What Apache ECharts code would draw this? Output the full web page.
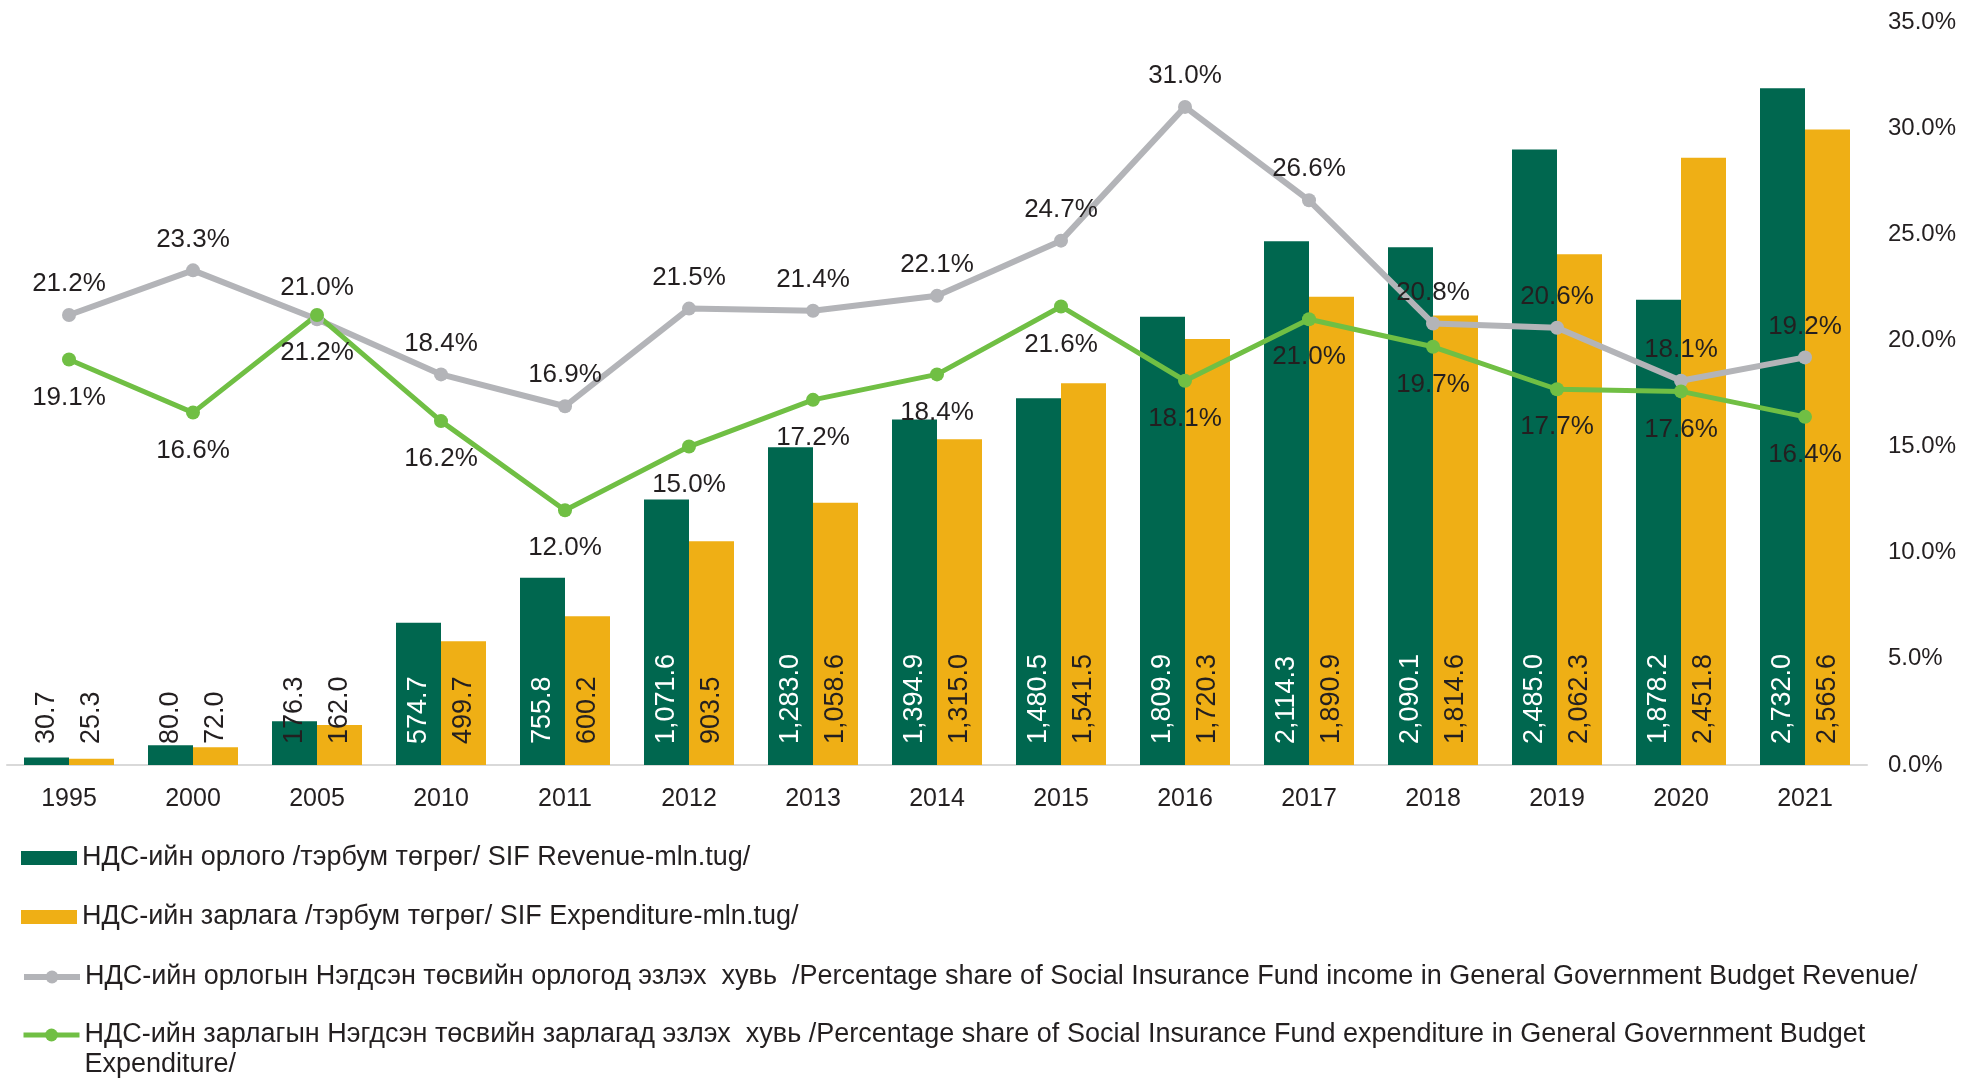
<!DOCTYPE html>
<html>
<head>
<meta charset="utf-8">
<script src="https://cdn.jsdelivr.net/npm/echarts@6/dist/echarts.min.js"></script>
<style>
  html, body { margin: 0; padding: 0; background: #fff; }
  #graph1 { width: 1961px; height: 1079px; }
</style>
</head>
<body>
<div id="graph1"></div>
<script>
// data
var years = ['1995','2000','2005','2010','2011','2012','2013','2014','2015','2016','2017','2018','2019','2020','2021'];
var revenue = [30.7, 80.0, 176.3, 574.7, 755.8, 1071.6, 1283.0, 1394.9, 1480.5, 1809.9, 2114.3, 2090.1, 2485.0, 1878.2, 2732.0];
var expenditure = [25.3, 72.0, 162.0, 499.7, 600.2, 903.5, 1058.6, 1315.0, 1541.5, 1720.3, 1890.9, 1814.6, 2062.3, 2451.8, 2565.6];
var revenueShare = [21.2, 23.3, 21.0, 18.4, 16.9, 21.5, 21.4, 22.1, 24.7, 31.0, 26.6, 20.8, 20.6, 18.1, 19.2];
var expenditureShare = [19.1, 16.6, 21.2, 16.2, 12.0, 15.0, 17.2, 18.4, 21.6, 18.1, 21.0, 19.7, 17.7, 17.6, 16.4];
var pctMin = 0, pctMax = 35, pctStep = 5;

var names = [
  'НДС-ийн орлого /тэрбум төгрөг/ SIF Revenue-mln.tug/',
  'НДС-ийн зарлага /тэрбум төгрөг/ SIF Expenditure-mln.tug/',
  'НДС-ийн орлогын Нэгдсэн төсвийн орлогод эзлэх  хувь  /Percentage share of Social Insurance Fund income in General Government Budget Revenue/',
  'НДС-ийн зарлагын Нэгдсэн төсвийн зарлагад эзлэх  хувь /Percentage share of Social Insurance Fund expenditure in General Government Budget Expenditure/'
];

var FONT = '"Liberation Sans", Arial, sans-serif';
var TXT = '#231f20';
var GREEN = '#00674f', YELLOW = '#efaf15', GREY = '#b3b4b8', LIME = '#70bf44';

var main = document.getElementById("graph1");
var myChart = echarts.init(main);

function fmt(v) {
  return v.toLocaleString('en-US', {minimumFractionDigits: 1, maximumFractionDigits: 1});
}

// green bars: label white when it fits inside the bar
var revenueData = revenue.map(function (v) {
  return {value: v, label: {color: v > 400 ? '#ffffff' : TXT}};
});

var barLabel = {
  show: true,
  position: 'insideBottom',
  rotate: 90,
  align: 'left',
  verticalAlign: 'middle',
  distance: 21,
  fontFamily: FONT,
  fontSize: 27,
  color: TXT,
  formatter: function (p) { return fmt(p.value); }
};

var legendText = {fontFamily: FONT, fontSize: 27, color: TXT, lineHeight: 30};

function legendItem(idx, top, icon, extra) {
  var l = {
    show: true,
    data: [names[idx]],
    orient: 'vertical',
    left: 21,
    top: top,
    padding: 0,
    itemWidth: 56,
    itemHeight: 14,
    selectedMode: false,
    textStyle: legendText
  };
  if (icon) l.icon = icon;
  if (extra) {
    for (var k in extra) l[k] = extra[k];
  }
  return l;
}

var option = {
  animation: false,
  backgroundColor: '#ffffff',
  grid: {left: 7, right: 94, top: 22, bottom: 314, containLabel: false},
  legend: [
    legendItem(0, 843, 'rect'),
    legendItem(1, 902, 'rect'),
    legendItem(2, 962, null, {itemHeight: 16, lineStyle: {width: 6}}),
    // empty first line keeps the icon level with the first text line
    legendItem(3, 990, null, {
      itemHeight: 16,
      lineStyle: {width: 5},
      formatter: function (n) {
        return '\n' + n.replace(' Budget Expenditure/', ' Budget\nExpenditure/');
      }
    })
  ],
  xAxis: {
    type: 'category',
    data: years,
    axisTick: {show: false},
    axisLine: {lineStyle: {color: '#d9d9d9', width: 2}},
    axisLabel: {fontFamily: FONT, fontSize: 25, color: TXT, margin: 22}
  },
  yAxis: [
    {type: 'value', min: 0, max: 3000, show: false, splitLine: {show: false}},
    {
      type: 'value', position: 'right', min: pctMin, max: pctMax, interval: pctStep,
      splitLine: {show: false},
      axisLine: {show: false},
      axisTick: {show: false},
      axisLabel: {
        fontFamily: FONT, fontSize: 24, color: TXT, margin: 21,
        formatter: function (v) { return v.toFixed(1) + '%'; }
      }
    }
  ],
  series: [
    {
      name: names[0], type: 'bar', yAxisIndex: 0,
      barWidth: 45, barGap: '0%',
      itemStyle: {color: GREEN},
      label: barLabel,
      data: revenueData
    },
    {
      name: names[1], type: 'bar', yAxisIndex: 0,
      barWidth: 45, barGap: '0%',
      itemStyle: {color: YELLOW},
      label: barLabel,
      data: expenditure
    },
    {
      name: names[2], type: 'line', yAxisIndex: 1,
      symbol: 'circle', symbolSize: 14,
      lineStyle: {color: GREY, width: 6},
      itemStyle: {color: GREY},
      label: {
        show: true, position: 'top', distance: 11,
        fontFamily: FONT, fontSize: 26, color: TXT,
        formatter: function (p) { return p.value.toFixed(1) + '%'; }
      },
      data: revenueShare
    },
    {
      name: names[3], type: 'line', yAxisIndex: 1,
      symbol: 'circle', symbolSize: 14,
      lineStyle: {color: LIME, width: 5},
      itemStyle: {color: LIME},
      label: {
        show: true, position: 'bottom', distance: 18,
        fontFamily: FONT, fontSize: 26, color: TXT,
        formatter: function (p) { return p.value.toFixed(1) + '%'; }
      },
      data: expenditureShare
    }
  ]
};

myChart.setOption(option);
</script>
</body>
</html>
